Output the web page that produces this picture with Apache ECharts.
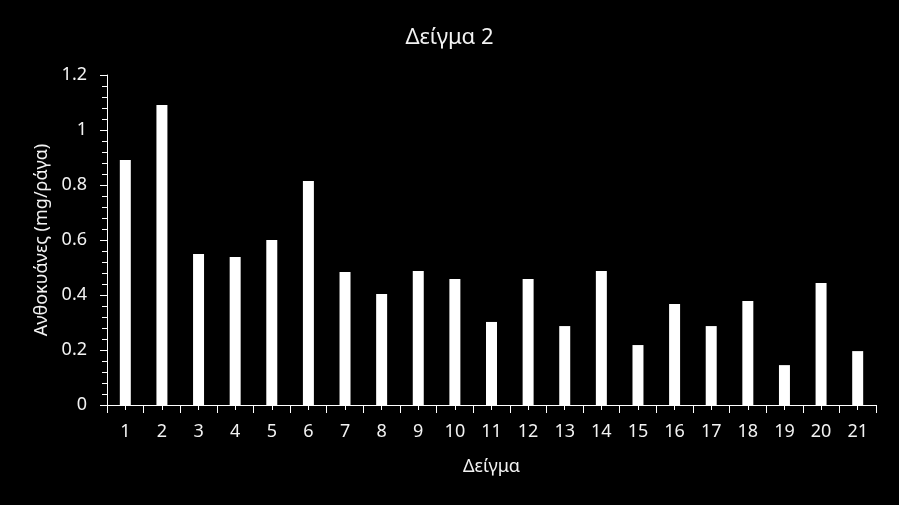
<!DOCTYPE html>
<html>
<head>
    <meta charset="utf-8">
    <script src="https://cdn.jsdelivr.net/npm/echarts@6.0.0/dist/echarts.min.js"></script>
    <style>
        html, body { margin: 0; padding: 0; background: #000; }
    </style>
</head>
<body>
    <div id="main" style="width: 899px;height:505px;"></div>
    <script type="text/javascript">
        var myChart = echarts.init(document.getElementById('main'));

        // 数据
        var categories = ['1', '2', '3', '4', '5', '6', '7', '8', '9', '10', '11',
            '12', '13', '14', '15', '16', '17', '18', '19', '20', '21'];
        var values = [0.891, 1.091, 0.549, 0.538, 0.600, 0.815, 0.484, 0.404, 0.487, 0.458, 0.302,
            0.458, 0.287, 0.487, 0.218, 0.367, 0.287, 0.378, 0.145, 0.444, 0.196];
        var yTicks = [0, 0.2, 0.4, 0.6, 0.8, 1, 1.2];

        var fontName = 'Noto Sans';
        var txtColor = '#f2f2f2';

        var option = {
            backgroundColor: '#000000',
            title: {
                text: 'Δείγμα 2',
                left: 'center',
                top: 22,
                textStyle: {
                    color: txtColor,
                    fontFamily: fontName,
                    fontSize: 22,
                    fontWeight: 'normal'
                }
            },
            grid: {
                left: 107,
                right: 23,
                top: 75,
                bottom: 100,
                containLabel: false
            },
            xAxis: [
                { // 主轴: 分类边界刻度 + 标签
                    type: 'category',
                    data: categories,
                    boundaryGap: true,
                    name: 'Δείγμα',
                    nameLocation: 'middle',
                    nameGap: 53,
                    nameTextStyle: {
                        color: txtColor,
                        fontFamily: fontName,
                        fontSize: 18
                    },
                    axisLine: { lineStyle: { color: '#ffffff', width: 1 } },
                    axisTick: {
                        show: true,
                        alignWithLabel: false,
                        length: 8,
                        lineStyle: { color: '#ffffff' }
                    },
                    axisLabel: {
                        color: txtColor,
                        fontFamily: fontName,
                        fontSize: 18,
                        margin: 18,
                        interval: 0
                    },
                    splitLine: { show: false }
                },
                { // 辅助轴: 柱中心的短刻度
                    type: 'category',
                    data: categories,
                    position: 'bottom',
                    axisLine: { show: false },
                    axisTick: {
                        show: true,
                        alignWithLabel: true,
                        interval: 0,
                        length: 5,
                        lineStyle: { color: '#ffffff' }
                    },
                    axisLabel: { show: false },
                    splitLine: { show: false }
                }
            ],
            yAxis: {
                type: 'value',
                min: yTicks[0],
                max: yTicks[yTicks.length - 1],
                interval: 0.2,
                name: 'Ανθοκυάνες (mg/ράγα)',
                nameLocation: 'middle',
                nameGap: 55,
                nameTextStyle: {
                    color: txtColor,
                    fontFamily: fontName,
                    fontSize: 18
                },
                axisLine: { show: true, lineStyle: { color: '#ffffff', width: 1 } },
                axisTick: {
                    show: true,
                    length: 7,
                    lineStyle: { color: '#ffffff' }
                },
                minorTick: {
                    show: true,
                    splitNumber: 5,
                    length: 5,
                    lineStyle: { color: '#ffffff' }
                },
                axisLabel: {
                    color: txtColor,
                    fontFamily: fontName,
                    fontSize: 18,
                    margin: 20
                },
                splitLine: { show: false },
                minorSplitLine: { show: false }
            },
            series: [
                {
                    type: 'bar',
                    xAxisIndex: 0,
                    data: values,
                    barWidth: '30%',
                    itemStyle: { color: '#ffffff' }
                }
            ]
        };
        myChart.setOption(option);
    </script>
</body>
</html>
